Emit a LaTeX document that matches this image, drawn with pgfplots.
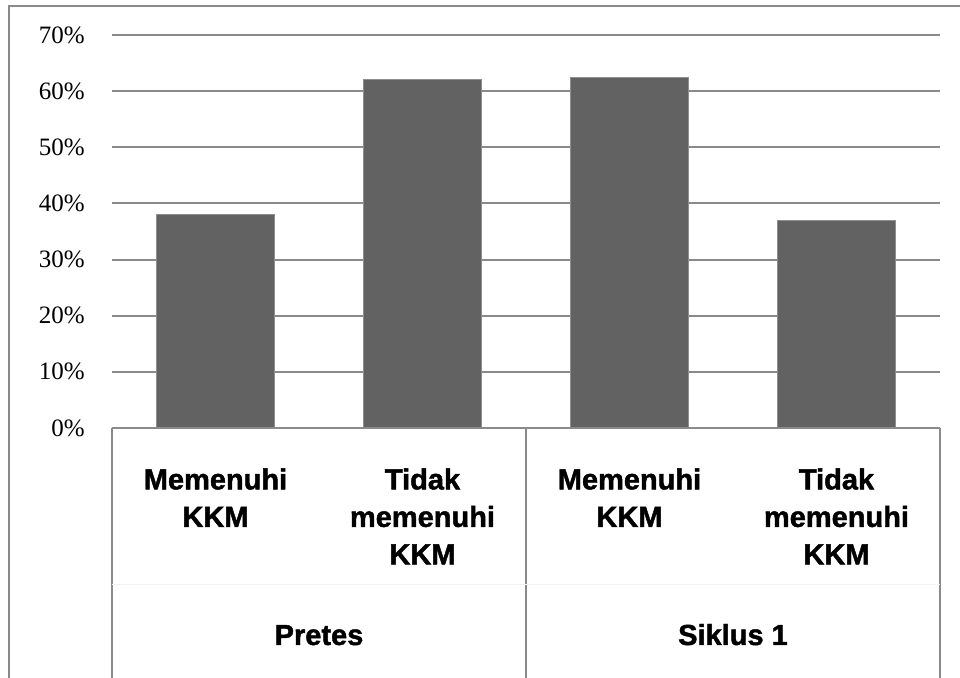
\documentclass[border=0pt]{standalone}
\usepackage{pgfplots}
\pgfplotsset{compat=1.18}
\usepackage{fontspec}
\setmainfont{Liberation Serif}
\newfontfamily\catfont{Liberation Sans Bold}[FakeBold=1.5]
\definecolor{barfill}{HTML}{626262}
\definecolor{bardraw}{HTML}{8E8E8E}
\definecolor{gridc}{HTML}{8A8A8A}
\begin{document}
\begin{tikzpicture}
\useasboundingbox (0pt,0pt) rectangle (480pt,339pt);
\draw[gridc, line width=1pt] (4.5pt,0pt) -- (4.5pt,336pt) -- (480pt,336pt);
\begin{axis}[
  at={(56pt,125pt)}, anchor=south west, scale only axis,
  width=414pt, height=196.5pt,
  xmin=-0.5, xmax=3.5, ymin=0, ymax=70,
  axis line style={draw=none},
  ymajorgrids, grid style={gridc, line width=1pt},
  major tick length=0pt,
  ytick={0,10,20,30,40,50,60,70},
  yticklabels={0\%,10\%,20\%,30\%,40\%,50\%,60\%,70\%},
  xtick={0,1,2,3},
  xticklabels={{Memenuhi\\KKM},{Tidak\\memenuhi\\KKM},{Memenuhi\\KKM},{Tidak\\memenuhi\\KKM}},
  xticklabel style={font=\catfont\fontsize{14.5}{18.75}\selectfont, align=center, anchor=north, inner sep=0pt, yshift=-20pt},
  yticklabel style={font=\fontsize{12.5}{15}\selectfont, anchor=east, inner sep=0pt, xshift=-13.5pt},
  clip=false,
  bar width=0.57,
]
\addplot[ybar, fill=barfill, draw=bardraw, line width=0.5pt] coordinates {(0,38) (1,62) (2,62.5) (3,37)};
\draw[gridc, line width=1pt] (axis cs:-0.5,0) -- (axis cs:3.5,0);
\draw[gridc, line width=0.8pt] (axis cs:-0.5,0) -- ++(0pt,-125pt);
\draw[gridc, line width=0.8pt] (axis cs:1.5,0) -- ++(0pt,-125pt);
\draw[gridc, line width=0.8pt] (axis cs:3.5,0) -- ++(0pt,-125pt);
\draw[black!5, line width=0.5pt] (axis cs:-0.5,0) ++(0pt,-78.5pt) -- ([yshift=-78.5pt]axis cs:3.5,0);
\node[font=\catfont\fontsize{14.5}{18.75}\selectfont, anchor=base, inner sep=0pt] at ([yshift=-108.5pt]axis cs:0.5,0) {Pretes};
\node[font=\catfont\fontsize{14.5}{18.75}\selectfont, anchor=base, inner sep=0pt] at ([yshift=-108.5pt]axis cs:2.5,0) {Siklus 1};
\end{axis}
\end{tikzpicture}
\end{document}
